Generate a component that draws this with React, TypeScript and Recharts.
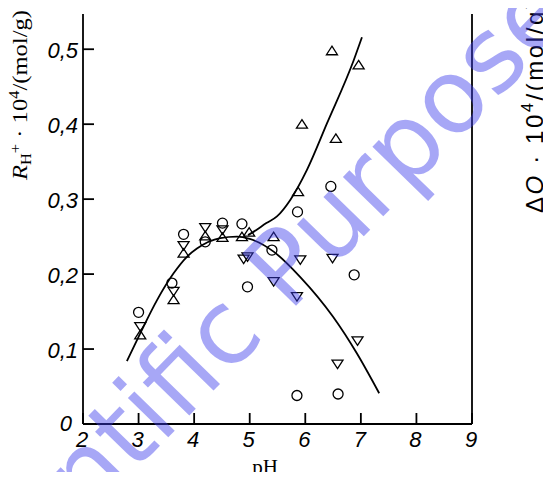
import { ComposedChart, Line, Scatter, XAxis, YAxis } from "recharts";

// pH axis and value axis ticks
const phTicks = [2, 3, 4, 5, 6, 7, 8, 9];
const valueTicks = [0, 0.1, 0.2, 0.3, 0.4, 0.5];

// measured points, [pH, value]
const circles: [number, number][] = [
  [3.0, 0.149], [3.6, 0.188], [3.81, 0.253], [4.2, 0.243], [4.51, 0.268],
  [4.86, 0.267], [4.96, 0.183], [5.4, 0.232], [5.86, 0.283], [5.85, 0.038],
  [6.46, 0.317], [6.59, 0.04], [6.88, 0.199],
];
const upTriangles: [number, number][] = [
  [3.03, 0.119], [3.63, 0.166], [3.81, 0.228], [4.2, 0.251], [4.51, 0.249],
  [4.86, 0.25], [4.99, 0.256], [5.43, 0.25], [5.87, 0.31], [5.94, 0.4],
  [6.48, 0.498], [6.55, 0.381], [6.96, 0.479],
];
const downTriangles: [number, number][] = [
  [3.03, 0.13], [3.63, 0.177], [3.81, 0.238], [4.2, 0.262], [4.51, 0.259],
  [4.89, 0.22], [4.96, 0.223], [5.43, 0.19], [5.85, 0.17], [5.91, 0.219],
  [6.49, 0.221], [6.58, 0.08], [6.94, 0.111],
];

// fitted curves
const peakCurve: [number, number][] = [
  [2.79, 0.084], [3.03, 0.121], [3.33, 0.165], [3.63, 0.201], [3.87, 0.223],
  [4.05, 0.234], [4.47, 0.248], [4.77, 0.25], [5.0, 0.247], [5.43, 0.23],
  [5.91, 0.196], [6.5, 0.143], [6.93, 0.094], [7.33, 0.041],
];
const riseCurve: [number, number][] = [
  [4.97, 0.252], [5.06, 0.256], [5.3, 0.268], [5.49, 0.277], [5.73, 0.299],
  [6.03, 0.339], [6.39, 0.401], [6.87, 0.485], [7.02, 0.516],
];

const toRows = (pts: [number, number][]) => pts.map(([ph, v]) => ({ ph, v }));

const tickFont = {
  fontFamily: "'Liberation Sans', Arial, sans-serif",
  fontStyle: "italic" as const,
  fontSize: 22,
  fill: "#000",
};

const fmt = (v: number) => (v === 0 ? "0" : v.toFixed(1).replace(".", ","));

function LeftTick({ x, y, payload }: any) {
  const v = payload.value;
  return (
    <g>
      <line x1={x} y1={y} x2={x + 11} y2={y} stroke="#000" strokeWidth={1.8} />
      <text
        x={v === 0 ? x - 11 : x - 5}
        y={v === 0 ? y + 7 : y + 9}
        textAnchor="end"
        {...tickFont}
      >
        {fmt(v)}
      </text>
    </g>
  );
}

function RightTick({ x, y, payload }: any) {
  const v = payload.value;
  return (
    <g>
      <line x1={x} y1={y} x2={x - 9} y2={y} stroke="#000" strokeWidth={1.8} />
      <text x={v === 0 ? x + 15 : x + 10} y={v === 0 ? y + 7 : y + 9} {...tickFont}>
        {fmt(v)}
      </text>
    </g>
  );
}

function BottomTick({ x, y, payload }: any) {
  return (
    <g>
      <line x1={x} y1={y} x2={x} y2={y - 11} stroke="#000" strokeWidth={1.8} />
      <text x={x - 1} y={y + 23} textAnchor="middle" {...tickFont}>
        {payload.value}
      </text>
    </g>
  );
}

function Circle({ cx, cy }: any) {
  return <circle cx={cx} cy={cy} r={5} fill="none" stroke="#000" strokeWidth={1.3} />;
}

function UpTriangle({ cx, cy }: any) {
  return (
    <path
      d={`M${cx},${cy - 4.5}L${cx + 5.5},${cy + 4}L${cx - 5.5},${cy + 4}Z`}
      fill="none"
      stroke="#000"
      strokeWidth={1.3}
    />
  );
}

function DownTriangle({ cx, cy }: any) {
  return (
    <path
      d={`M${cx},${cy + 4.5}L${cx + 5.5},${cy - 4}L${cx - 5.5},${cy - 4}Z`}
      fill="none"
      stroke="#000"
      strokeWidth={1.3}
    />
  );
}

const serif = "'Liberation Serif', 'Times New Roman', serif";
const sans = "'Liberation Sans', Arial, sans-serif";

function LeftTitle({ viewBox }: any) {
  const { x, y } = viewBox;
  return (
    <text
      transform={`translate(${x + 4}, ${y + 166}) rotate(-90)`}
      fontFamily={serif}
      fontSize={21}
      fill="#000"
      textLength={170}
      lengthAdjust="spacingAndGlyphs"
    >
      <tspan fontStyle="italic">R</tspan>
      <tspan fontSize={14} dy={4}>H</tspan>
      <tspan fontSize={14} dy={-11}>+</tspan>
      <tspan dy={7}> · 10</tspan>
      <tspan fontSize={14} dy={-8}>4</tspan>
      <tspan dy={8}>/(mol/g)</tspan>
    </text>
  );
}

function RightTitle({ viewBox }: any) {
  const { x, y } = viewBox;
  return (
    <text
      transform={`translate(${x + 71}, ${y + 199}) rotate(-90)`}
      fontFamily={sans}
      fontSize={24}
      fill="#000"
      textLength={212}
      lengthAdjust="spacing"
    >
      <tspan>Δ</tspan>
      <tspan fontStyle="italic">Q</tspan>
      <tspan> · 10</tspan>
      <tspan fontSize={16} dy={-10}>4</tspan>
      <tspan dy={10}>/(mol/g)</tspan>
    </text>
  );
}

function BottomTitle({ viewBox }: any) {
  const { x, y } = viewBox;
  return (
    <text x={x + 182} y={y + 50} textAnchor="middle" fontFamily={serif} fontSize={21} fill="#000">
      pH
    </text>
  );
}

export default function App() {
  return (
    <div style={{ margin: -8, position: "relative", width: 551, height: 480, background: "#fff" }}>
      <ComposedChart width={551} height={480} margin={{ top: 14, right: 19, bottom: 26, left: 23 }}>
        <XAxis
          type="number"
          dataKey="ph"
          domain={[2, 9]}
          ticks={phTicks}
          interval={0}
          height={30}
          tickSize={0}
          tickMargin={0}
          tickLine={false}
          axisLine={{ stroke: "#000", strokeWidth: 1.8 }}
          tick={<BottomTick />}
          label={<BottomTitle />}
        />
        <YAxis
          yAxisId="left"
          type="number"
          dataKey="v"
          domain={[0, 0.547]}
          ticks={valueTicks}
          interval={0}
          width={60}
          tickSize={0}
          tickMargin={0}
          tickLine={false}
          axisLine={{ stroke: "#000", strokeWidth: 1.8 }}
          tick={<LeftTick />}
          label={<LeftTitle />}
        />
        <YAxis
          yAxisId="right"
          orientation="right"
          type="number"
          dataKey="v"
          domain={[0, 0.547]}
          ticks={valueTicks}
          interval={0}
          width={60}
          tickSize={0}
          tickMargin={0}
          tickLine={false}
          axisLine={{ stroke: "#000", strokeWidth: 1.8 }}
          tick={<RightTick />}
          label={<RightTitle />}
        />
        <Line
          yAxisId="left"
          data={toRows(peakCurve)}
          dataKey="v"
          type="monotone"
          stroke="#000"
          strokeWidth={1.8}
          dot={false}
          activeDot={false}
          isAnimationActive={false}
        />
        <Line
          yAxisId="left"
          data={toRows(riseCurve)}
          dataKey="v"
          type="monotone"
          stroke="#000"
          strokeWidth={1.8}
          dot={false}
          activeDot={false}
          isAnimationActive={false}
        />
        <Scatter yAxisId="left" data={toRows(circles)} dataKey="v" shape={<Circle />} isAnimationActive={false} />
        <Scatter yAxisId="left" data={toRows(upTriangles)} dataKey="v" shape={<UpTriangle />} isAnimationActive={false} />
        <Scatter yAxisId="left" data={toRows(downTriangles)} dataKey="v" shape={<DownTriangle />} isAnimationActive={false} />
      </ComposedChart>
      <svg
        width={551}
        height={480}
        style={{ position: "absolute", left: 0, top: 0, pointerEvents: "none" }}
      >
        <text
          x={258}
          y={345}
          textAnchor="middle"
          transform="rotate(-45.8, 258, 345)"
          fontFamily="'DejaVu Sans', sans-serif"
          fontSize={103}
          fill="rgba(60,60,235,0.45)"
        >
          Scientific Purpose
        </text>
      </svg>
    </div>
  );
}
